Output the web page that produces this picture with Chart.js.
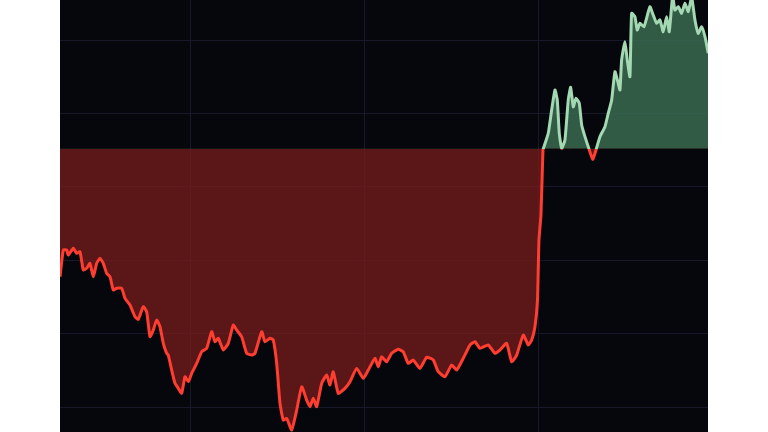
<!DOCTYPE html>
<html>
<head>
<meta charset="utf-8">
<script src="https://cdn.jsdelivr.net/npm/chart.js@4/dist/chart.umd.min.js"></script>
<style>
  html, body { margin: 0; padding: 0; background: #ffffff; }
  #wrap { position: absolute; left: 60px; top: 0; width: 648px; height: 432px; background: #06070c; }
</style>
</head>
<body>
<div id="wrap"><canvas id="priceChart"></canvas></div>
<script>
// minutes since open
const times = [
  0, 1.14, 2.31, 2.86, 4.59, 5.76, 6.9, 8.03, 9.21, 10.34, 11.48, 12.65, 13.79, 14.93, 16.1, 17.24,
  18.38, 19.55, 21.27, 22.41, 24.14, 25.86, 27, 28.72, 29.89, 31.03, 32.17, 33.34, 34.48, 35.62,
  36.79, 37.34, 38.51, 39.65, 40.79, 41.96, 43.1, 44.24, 45.41, 47.13, 48.86, 50.58, 52.31, 53.44,
  54.58, 56.31, 58.03, 59.75, 60.93, 62.65, 64.37, 66.1, 67.24, 69.55, 70.69, 72.41, 73.55, 74.72,
  75.86, 76.99, 78.17, 79.89, 81.62, 83.34, 85.06, 86.2, 87.34, 88.51, 90.23, 91.96, 93.1, 94.23,
  95.96, 98.27, 99.99, 102.3, 104.58, 106.3, 108.61, 109.75, 110.92, 112.65, 114.37, 116.64, 118.37,
  120.09, 121.82, 124.13, 126.44, 128.71, 130.44, 132.75, 135.06, 136.78, 139.06, 141.37, 143.09,
  144.82, 147.68, 149.99, 151.71, 154.02, 155.75, 157.47, 159.75, 161.47, 162.65, 163.78, 164.65,
  165.16, 165.85, 166.54, 166.89, 168.37, 169.54, 170.68, 171.47, 172.16, 172.99, 174.12, 175.26,
  176.09, 176.99, 177.92, 179.06, 179.89, 181.02, 182.16, 183.68, 184.82, 186.19, 187.92, 189.05,
  190.23, 191.36, 192.5, 193.09, 193.67, 194.81, 195.6, 196.53, 197.11, 198.25, 199.04, 199.97,
  201.35, 202.28, 203.41, 204.55, 205.74, 206.87, 208.01, 209.18, 210.08, 211.26, 212.03, 213.19,
  214.36, 215.5, 216.64, 217.81, 218.95, 220.08, 221.26, 222.4, 223.54
];

const prices = [
  117.75, 121.39, 121.39, 120.71, 121.62, 120.94, 121.16, 118.67, 118.9, 119.58, 117.75, 119.58,
  120.26, 119.58, 118.21, 117.75, 115.94, 116.17, 116.17, 114.81, 113.9, 112.3, 111.95, 113.67,
  112.98, 109.58, 110.49, 111.85, 110.94, 108.68, 107.32, 107.08, 105.04, 103.23, 102.55, 101.87,
  104.13, 103.45, 104.59, 105.95, 107.53, 108, 110.26, 108.9, 109.36, 107.77, 108.68, 111.17,
  110.49, 109.58, 107.32, 107.08, 107.32, 110.26, 108.9, 109.36, 109.13, 105.95, 100.5, 98.23,
  98.46, 96.87, 99.59, 102.77, 100.95, 100.04, 101.19, 100.04, 103.23, 104.36, 103, 104.81,
  101.87, 102.55, 103.45, 105.27, 103.91, 105.04, 106.64, 105.49, 106.85, 106.17, 107.32, 107.86,
  107.53, 105.95, 106.4, 105.27, 106.77, 106.4, 104.81, 104.13, 105.72, 105.04, 106.64, 108.45,
  108.9, 108, 108.45, 107.32, 107.77, 108.68, 106.17, 107.08, 109.81, 108.45, 109.13, 110.94,
  114.58, 122.75, 126.16, 135.01, 135.46, 137.29, 140.46, 143.19, 141.83, 137.29, 135.25, 136.38,
  141.83, 143.56, 140.91, 142.06, 141.38, 138.42, 136.83, 135.46, 133.75, 135.01, 136.83, 138.19,
  140.01, 141.83, 145.68, 144.1, 143.19, 147.28, 149.77, 147.28, 145, 153.64, 153.17, 151.36,
  152.28, 151.81, 152.96, 154.54, 153.41, 152.28, 152.73, 151.13, 153.17, 151.13, 156, 154.09,
  154.54, 153.64, 155, 153.86, 155.8, 152.73, 150.91, 151.81, 150.45, 148.19
];

const prevClose = 135.2;
const gridTimes = [45, 105, 165];
const gridPrices = [100, 110, 120, 130, 140, 150];

const UP = '#a3d8b3';
const DOWN = '#ff3d30';

const points = times.map((t, i) => ({ x: t, y: prices[i] }));

// line colour flips at the previous close
function splitColor(ctx) {
  const chart = ctx.chart;
  const area = chart.chartArea;
  if (!area) return DOWN;
  const y = chart.scales.y.getPixelForValue(prevClose);
  const stop = Math.min(Math.max((y - area.top) / (area.bottom - area.top), 0), 1);
  const g = chart.ctx.createLinearGradient(0, area.top, 0, area.bottom);
  g.addColorStop(0, UP);
  g.addColorStop(stop, UP);
  g.addColorStop(stop, DOWN);
  g.addColorStop(1, DOWN);
  return g;
}

new Chart(document.getElementById('priceChart'), {
  type: 'line',
  data: {
    datasets: [{
      data: points,
      borderColor: splitColor,
      borderWidth: 3,
      pointRadius: 0,
      tension: 0.15,
      fill: {
        target: { value: prevClose },
        above: 'rgba(60, 112, 84, 0.8)',
        below: 'rgba(122, 28, 28, 0.74)'
      }
    }]
  },
  options: {
    responsive: true,
    maintainAspectRatio: false,
    animation: false,
    layout: { padding: 0 },
    plugins: {
      legend: { display: false },
      tooltip: { enabled: false }
    },
    scales: {
      x: {
        type: 'linear',
        min: 0,
        max: 223.45,
        afterBuildTicks: (s) => { s.ticks = gridTimes.map(v => ({ value: v })) },
        ticks: { display: false },
        border: { display: false },
        grid: { color: '#18182b', lineWidth: 1, drawTicks: false }
      },
      y: {
        min: 96.6,
        max: 155.45,
        afterBuildTicks: (s) => { s.ticks = gridPrices.map(v => ({ value: v })) },
        ticks: { display: false },
        border: { display: false },
        grid: { color: '#18182b', lineWidth: 1, drawTicks: false }
      }
    }
  }
});
</script>
</body>
</html>
